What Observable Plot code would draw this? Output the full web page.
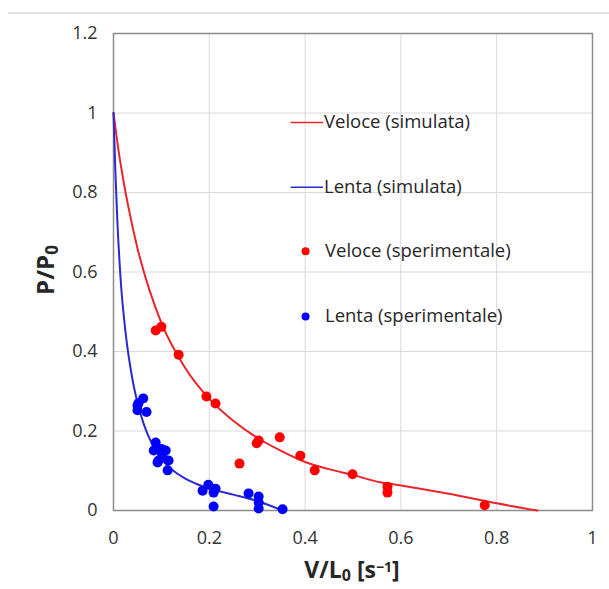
<!DOCTYPE html>
<html>
<head>
<meta charset="utf-8">
<script src="https://cdn.jsdelivr.net/npm/d3@7"></script>
<script src="https://cdn.jsdelivr.net/npm/@observablehq/plot@0.6"></script>
<style>
  html, body { margin: 0; padding: 0; background: #fff; }
  #wrap { position: relative; width: 609px; height: 589px; }
  #topline { position: absolute; left: 8px; top: 12px; width: 601px; height: 2px; background: #e3e3e3; }
</style>
</head>
<body>
<div id="wrap"><div id="topline"></div><div id="chart"></div></div>
<script>
// Tick values
const xTicks = [0, 0.2, 0.4, 0.6, 0.8, 1];
const yTicks = [0, 0.2, 0.4, 0.6, 0.8, 1, 1.2];

// Simulated curve "Veloce" (red)
const redSimV = [0, 0.01, 0.02, 0.03, 0.05, 0.075, 0.1, 0.15, 0.2, 0.25, 0.3, 0.35, 0.4, 0.45, 0.5, 0.557, 0.6, 0.7, 0.8, 0.885];
const redSimP = [1, 0.91, 0.835, 0.77, 0.66, 0.555, 0.472, 0.358, 0.281, 0.226, 0.183, 0.15, 0.122, 0.104, 0.089, 0.071, 0.063, 0.042, 0.018, 0];

// Simulated curve "Lenta" (blue)
const blueSimV = [0, 0.004, 0.008, 0.015, 0.025, 0.04, 0.056, 0.07, 0.084, 0.1, 0.125, 0.15, 0.175, 0.2, 0.25, 0.3, 0.353];
const blueSimP = [1, 0.85, 0.73, 0.58, 0.45, 0.327, 0.245, 0.195, 0.16, 0.13, 0.1, 0.08, 0.066, 0.055, 0.04, 0.024, 0];

// Experimental "Veloce" (red points)
const redExpV = [0.088, 0.100, 0.136, 0.194, 0.213, 0.263, 0.299, 0.303, 0.347, 0.390, 0.420, 0.499, 0.572, 0.572, 0.775];
const redExpP = [0.453, 0.462, 0.392, 0.287, 0.269, 0.118, 0.169, 0.176, 0.184, 0.138, 0.101, 0.091, 0.060, 0.045, 0.013];

// Experimental "Lenta" (blue points)
const blueExpV = [0.050, 0.062, 0.050, 0.069, 0.052, 0.088, 0.084, 0.109, 0.094, 0.115, 0.113, 0.102, 0.092, 0.100, 0.186, 0.198, 0.209, 0.213, 0.209, 0.282, 0.303, 0.303, 0.303, 0.353];
const blueExpP = [0.264, 0.282, 0.252, 0.248, 0.270, 0.171, 0.151, 0.151, 0.126, 0.126, 0.101, 0.138, 0.121, 0.155, 0.050, 0.065, 0.045, 0.055, 0.010, 0.043, 0.035, 0.020, 0.005, 0.003];

// Legend
const legendLabels = ["Veloce (simulata)", "Lenta (simulata)", "Veloce (sperimentale)", "Lenta (sperimentale)"];
const legendColors = ["#e8262a", "#2a2ad0", "#ff0000", "#0000ff"];
const legendKinds = ["line", "line", "dot", "dot"];
const legendRowP = [0.976, 0.813, 0.652, 0.488];

const zip = (xs, ys) => xs.map((x, i) => ({x, y: ys[i]}));
const redSim = zip(redSimV, redSimP);
const blueSim = zip(blueSimV, blueSimP);
const redExp = zip(redExpV, redExpP);
const blueExp = zip(blueExpV, blueExpP);
const legend = legendLabels.map((label, i) => ({label, color: legendColors[i], kind: legendKinds[i], y: legendRowP[i]}));
const legLines = legend.filter(d => d.kind === "line");
const legDots = legend.filter(d => d.kind === "dot");

const fmt = d => String(+d.toFixed(1));

const chart = Plot.plot({
  width: 609,
  height: 589,
  marginLeft: 113,
  marginRight: 17,
  marginTop: 33,
  marginBottom: 79,
  style: {fontFamily: "'Open Sans', sans-serif", fontSize: "18px", color: "#333333", background: "transparent"},
  x: {domain: [0, 1]},
  y: {domain: [0, 1.2]},
  marks: [
    Plot.gridX(xTicks, {stroke: "#d9d9d9", strokeOpacity: 1}),
    Plot.gridY(yTicks, {stroke: "#d9d9d9", strokeOpacity: 1}),
    Plot.axisX(xTicks, {tickSize: 0, tickPadding: 21, tickFormat: fmt, label: null, fontSize: 18}),
    Plot.axisY(yTicks, {tickSize: 0, tickPadding: 16, tickFormat: fmt, label: null, fontSize: 18}),
    Plot.frame({stroke: "#8c8c8c", strokeWidth: 1.5}),
    Plot.line(redSim, {x: "x", y: "y", stroke: "#e8262a", strokeWidth: 2, curve: "monotone-x"}),
    Plot.line(blueSim, {x: "x", y: "y", stroke: "#2a2ad0", strokeWidth: 2, curve: "monotone-x"}),
    Plot.dot(redExp, {x: "x", y: "y", r: 5, fill: "#ff0000"}),
    Plot.dot(blueExp, {x: "x", y: "y", r: 5, fill: "#0000ff"}),
    // legend
    Plot.link(legLines, {x1: 0.37, x2: 0.4375, y1: "y", y2: "y", stroke: "color", strokeWidth: 1.5}),
    Plot.dot(legDots, {x: 0.401, y: "y", r: 4, fill: "color"}),
    Plot.text(legLines, {x: 0.4395, y: "y", text: "label", textAnchor: "start", fill: "#262626", fontSize: 18.5}),
    Plot.text(legDots, {x: 0.4415, y: "y", text: "label", textAnchor: "start", fill: "#262626", fontSize: 18.5})
  ]
});
document.getElementById("chart").appendChild(chart);

// Axis titles with subscripts / superscripts
const svg = d3.select(chart);
const yl = svg.append("text")
  .attr("transform", "translate(54,270) rotate(-90)")
  .attr("text-anchor", "middle")
  .attr("font-family", "'Open Sans', sans-serif")
  .attr("font-size", 24).attr("font-weight", "bold").attr("fill", "#262626");
yl.append("tspan").text("P/P");
yl.append("tspan").attr("baseline-shift", "-25%").attr("font-size", 17).text("0");

const xl = svg.append("text")
  .attr("x", 352).attr("y", 578)
  .attr("text-anchor", "middle")
  .attr("font-family", "'Open Sans', sans-serif")
  .attr("font-size", 23).attr("font-weight", "bold").attr("fill", "#262626");
xl.append("tspan").text("V/L");
xl.append("tspan").attr("baseline-shift", "-20%").attr("font-size", 16).text("0");
xl.append("tspan").text(" [s");
xl.append("tspan").attr("baseline-shift", "40%").attr("font-size", 14).text("\u22121");
xl.append("tspan").text("]");
</script>
</body>
</html>
